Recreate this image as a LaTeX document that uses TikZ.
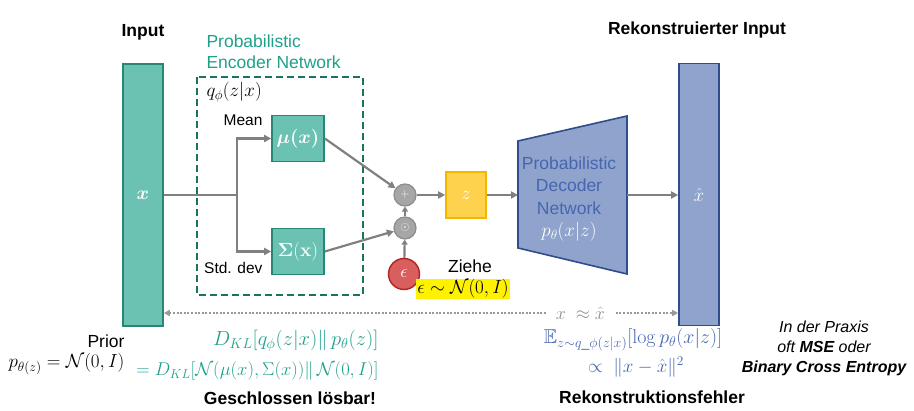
\RequirePackage{fix-cm}
\documentclass[tikz,border=0pt]{standalone}
\usepackage{amsmath,amssymb}
\usepackage[no-math]{fontspec}
\setmainfont{Liberation Sans}
\usetikzlibrary{arrows.meta, positioning, calc}
\definecolor{encfill}{RGB}{107, 194, 179}
\definecolor{encdraw}{RGB}{40, 135, 115}
\definecolor{encdash}{RGB}{25, 115, 95}
\definecolor{enctext}{RGB}{30, 160, 138}
\definecolor{decfill}{RGB}{143, 163, 204}
\definecolor{decdraw}{RGB}{47, 76, 140}
\definecolor{dectext}{RGB}{70, 102, 176}
\definecolor{pfeilgrau}{RGB}{128, 128, 128}
\definecolor{opfill}{RGB}{166, 166, 166}
\definecolor{opdraw}{RGB}{140, 140, 140}
\definecolor{epsfill}{RGB}{217, 95, 95}
\definecolor{epsdraw}{RGB}{178, 34, 34}
\definecolor{zfill}{RGB}{255, 210, 77}
\definecolor{zdraw}{RGB}{242, 184, 0}

\begin{document}
\begin{tikzpicture}[x=1pt, y=-1pt,
        balken/.style={
            rectangle,
            minimum width=40pt,
            minimum height=262pt,
            line width=1.6pt,
            text=white,
            font=\fontsize{19}{21}\selectfont
        },
        netz/.style={
            rectangle,
            minimum width=52pt,
            minimum height=46pt,
            fill=encfill,
            draw=encdraw,
            line width=1.6pt,
            text=white,
            font=\fontsize{19}{21}\selectfont
        },
        opkreis/.style={
            circle,
            minimum size=22pt,
            inner sep=0pt,
            fill=opfill,
            draw=opdraw,
            line width=1.2pt,
            text=white,
            font=\fontsize{12}{13}\selectfont
        },
        pfeil/.style={
            -{Triangle[length=7pt, width=7pt]},
            line width=2.2pt,
            draw=pfeilgrau
        },
        titel/.style={font=\fontsize{17.5}{21}\bfseries\selectfont},
        schrift/.style={font=\fontsize{17.5}{21}\selectfont},
        formel/.style={font=\fontsize{19}{23}\selectfont}
    ]
    \useasboundingbox (0,0) rectangle (914,411);

    % Input und Output
    \node[balken, fill=encfill, draw=encdraw] (input) at (143,195) {$\boldsymbol{x}$};
    \node[balken, fill=decfill, draw=decdraw] (output) at (699,194.5) {$\hat{x}$};
    \node[titel] (inlabel) at (143,32) {Input};
    \node[titel] (outlabel) at (697,30) {Rekonstruierter Input};

    % Encoder
    \draw[encdash, line width=2.2pt, dash pattern=on 7pt off 4pt] (197,77) rectangle (363,295);
    \node[schrift, anchor=west, align=left, text=enctext] (enctitel) at (203,52)
        {Probabilistic\\Encoder Network};
    \node[formel, anchor=west] (qphi) at (203,92) {$q_\phi(z|x)$};
    \node[netz] (mu) at (298,138.5) {$\boldsymbol{\mu(x)}$};
    \node[netz] (sigma) at (298,251.5) {$\mathbf{\Sigma(x)}$};
    \node[anchor=east, font=\fontsize{15.5}{18}\selectfont] (mean) at (266,120) {Mean};
    \node[anchor=east, font=\fontsize{15.5}{18}\selectfont] (stddev) at (266,268) {Std. dev};

    % Reparametrisierung
    \node[opkreis] (plus) at (405,195) {$+$};
    \node[opkreis] (odot) at (405,228) {$\odot$};
    \node[circle, minimum size=31pt, inner sep=0pt, fill=epsfill, draw=epsdraw,
        line width=1.4pt, text=white, font=\fontsize{18}{19}\selectfont] (eps) at (404,274) {$\epsilon$};
    \node[schrift] (ziehe) at (470,266) {Ziehe};
    \node[formel, fill=yellow, inner sep=1pt] (epsdist) at (463,289) {$\epsilon\sim\mathcal{N}(0,I)$};
    \node[rectangle, minimum width=40pt, minimum height=46pt, fill=zfill, draw=zdraw,
        line width=1.6pt, text=white, font=\fontsize{19}{21}\selectfont] (z) at (466,195) {$z$};

    % Decoder
    \draw[fill=decfill, draw=decdraw, line width=1.6pt] (518,141) -- (627,116) -- (627,274) -- (518,248) -- cycle;
    \coordinate (decin) at (518,195);
    \coordinate (decout) at (627,195);
    \node[schrift, align=center, text=dectext, font=\fontsize{17.5}{22.6}\selectfont] (dec) at (569,199)
        {Probabilistic\\Decoder\\Network\\\textcolor{white}{\fontsize{19}{22}\selectfont$p_\theta(x|z)$}};

    % Verbindungen
    \coordinate (split) at (237,195);
    \draw[line width=2.2pt, draw=pfeilgrau] (input.east) -- (split);
    \draw[pfeil] (split) |- (mu.west);
    \draw[pfeil] (split) |- (sigma.west);
    \draw[pfeil] (mu.east) -- (plus);
    \draw[pfeil] (sigma.east) -- (odot);
    \draw[pfeil, -{Triangle[length=5pt, width=6pt]}] (eps) -- (odot);
    \draw[pfeil, -{Triangle[length=5pt, width=6pt]}] (odot) -- (plus);
    \draw[pfeil] (plus) -- (z);
    \draw[pfeil] (z) -- (decin);
    \draw[pfeil] (decout) -- (output.west |- decout);
    \draw[line width=2pt, draw=pfeilgrau!80, dash pattern=on 2pt off 1.6pt,
        {Triangle[length=6pt, width=6pt]}-{Triangle[length=6pt, width=6pt]}]
        (input.east |- 0,313) -- node[pos=0.81, fill=white, inner xsep=9pt, text=pfeilgrau!90,
        font=\fontsize{18}{20}\selectfont] (approx) {$x\ \approx \hat{x}$} (output.west |- 0,313);

    % KL-Term
    \node[schrift, anchor=east] (prior) at (128,341) {Prior};
    \node[formel, anchor=east] (priorform) at (128,364) {$p_{\theta(z)} = \mathcal{N}(0,I)$};
    \node[formel, anchor=east, text=enctext, font=\fontsize{20.5}{24}\selectfont] (kl1) at (382,341)
        {$D_{KL}[q_\phi(z|x)\|\, p_\theta(z)]$};
    \node[formel, anchor=east, text=enctext, font=\fontsize{18.5}{22}\selectfont] (kl2) at (382,371)
        {$=D_{KL}[\mathcal{N}(\mu(x),\Sigma(x))\|\, \mathcal{N}(0,I)]$};
    \node[titel] (geschl) at (290,398) {Geschlossen lösbar!};

    % Rekonstruktion
    \node[formel, text=dectext, font=\fontsize{20}{24}\selectfont] (rek1) at (633,340)
        {$\mathbb{E}_{z\sim q\_\phi(z|x)}[\log p_\theta(x|z)]$};
    \node[formel, text=dectext] (rek2) at (636,367) {$\propto\ \|x-\hat{x}\|^2$};
    \node[titel] (rekfehler) at (652,397) {Rekonstruktionsfehler};
    \node[align=center, font=\fontsize{16}{20}\itshape\selectfont] (praxis) at (824,348)
        {In der Praxis\\oft \textbf{MSE} oder\\\textbf{Binary Cross Entropy}};
\end{tikzpicture}
\end{document}
